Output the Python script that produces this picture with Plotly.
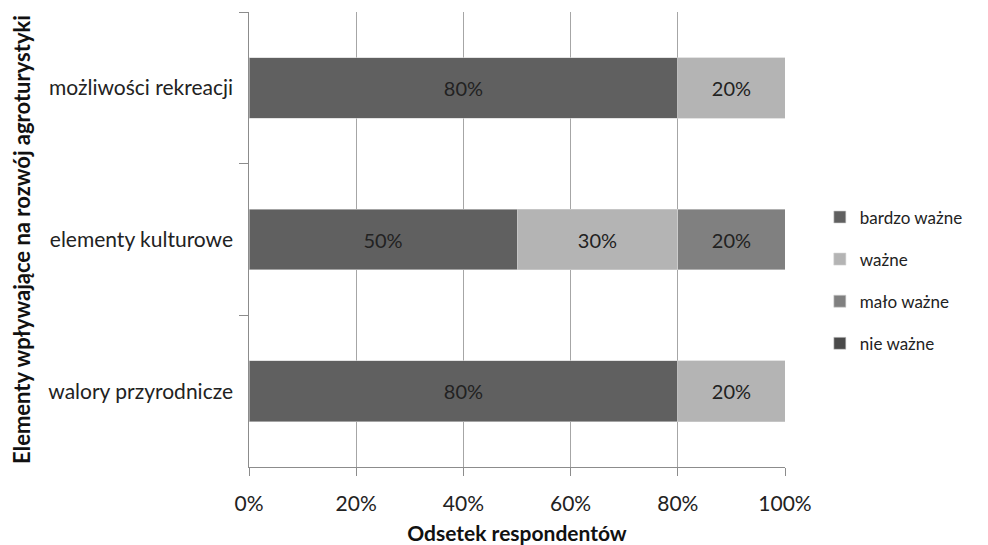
import plotly.graph_objects as go

categories = ["możliwości rekreacji", "elementy kulturowe", "walory przyrodnicze"]
series_names = ["bardzo ważne", "ważne", "mało ważne", "nie ważne"]
bardzo_wazne = [80, 50, 80]
wazne = [20, 30, 20]
malo_wazne = [0, 20, 0]
nie_wazne = [0, 0, 0]
series_values = [bardzo_wazne, wazne, malo_wazne, nie_wazne]
colors = ["#606060", "#b4b4b4", "#808080", "#4a4a4a"]
x_ticks = [0, 20, 40, 60, 80, 100]

FONT = "Lato, Carlito, Calibri, sans-serif"

fig = go.Figure()
for name, vals, col in zip(series_names, series_values, colors):
    fig.add_trace(go.Bar(
        y=categories, x=vals, name=name, orientation="h",
        marker=dict(color=col, line=dict(width=0.6, color="#d0d0d0")),
        text=[f"{v}%" if v > 0 else "" for v in vals],
        textposition="inside", insidetextanchor="middle",
        textfont=dict(color="#222222", size=20, family=FONT),
        legendgroup=name,
    ))

fig.update_layout(
    width=980, height=537,
    barmode="stack", bargap=0.6,
    plot_bgcolor="white", paper_bgcolor="white",
    font=dict(family=FONT, size=20, color="#222222"),
    margin=dict(l=241, r=203, t=4, b=78),
    showlegend=True,
    legend=dict(x=1.065, y=0.41, xanchor="left", yanchor="middle",
                traceorder="grouped", tracegroupgap=17,
                font=dict(size=17, family=FONT, color="#222222")),
    uniformtext=dict(mode="show", minsize=10),
)
fig.update_xaxes(
    automargin=False,
    range=[0, 100], tickvals=x_ticks, ticktext=[f"{v}%" for v in x_ticks],
    showgrid=True, gridcolor="#a6a6a6", gridwidth=1,
    showline=True, linecolor="#8c8c8c", linewidth=1,
    ticks="outside", ticklen=8, tickcolor="#8c8c8c",
    ticklabelstandoff=10,
    zeroline=False,
    tickfont=dict(size=21, family=FONT, color="#222222"),
    title=dict(text="<b>Odsetek respondentów</b>", standoff=13,
               font=dict(size=21, family=FONT, color="#111111")),
)
fig.update_yaxes(
    automargin=False,
    autorange="reversed",
    showline=True, linecolor="#8c8c8c", linewidth=1,
    ticks="outside", ticklen=9, tickcolor="#8c8c8c", tickson="boundaries",
    showgrid=False,
    tickfont=dict(size=21, family=FONT, color="#222222"),
    ticksuffix="  ",
    title=dict(text="<b>Elementy wpływające na rozwój agroturystyki</b>", standoff=18,
               font=dict(size=22, family=FONT, color="#111111")),
)

fig.write_html("out.html")
